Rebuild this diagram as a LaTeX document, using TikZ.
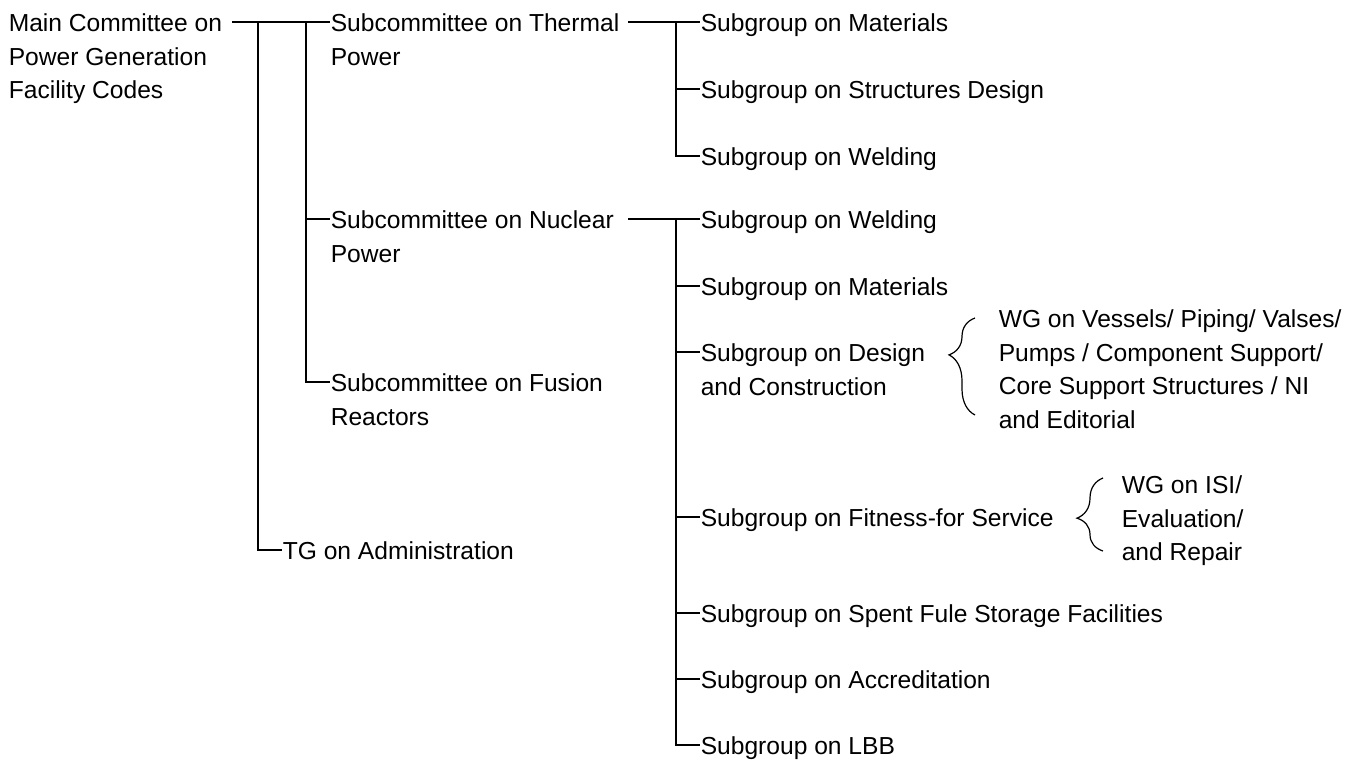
\documentclass[tikz,border=0pt]{standalone}
\usepackage{fontspec}
\setmainfont{Liberation Sans}
\usetikzlibrary{decorations.pathreplacing}

\begin{document}
\begin{tikzpicture}[x=0.5pt, y=-0.5pt, line width=0.8pt,
    lbl/.style={anchor=north west, inner sep=0pt, align=left, yshift=4.4pt,
                font=\fontsize{12.3}{16.75}\selectfont},
    wgbrace/.style={line width=0.6pt, decorate,
                    decoration={brace, amplitude=13pt, aspect=#1}}]
\useasboundingbox (0,0) rectangle (1360,760);

% main committee
\node[lbl] (main) at (8,22) {Main Committee on\\Power Generation\\Facility Codes};
\coordinate (mainout) at (232,22);

% subcommittees
\path (330,22)  coordinate (thin) node[lbl] (thermal) {Subcommittee on Thermal\\Power};
\path (330,219) coordinate (nuin) node[lbl] (nuclear) {Subcommittee on Nuclear\\Power};
\path (330,382) coordinate (fuin) node[lbl] (fusion)  {Subcommittee on Fusion\\Reactors};
\path (282,550) coordinate (adin) node[lbl] (admin)   {TG on Administration};

\coordinate (spa) at (258,22);
\coordinate (spb) at (306,22);
\draw (mainout) -- (thin);
\draw (spa) |- (adin);
\draw (spb) |- (fuin);
\draw (spb |- nuin) -- (nuin);

% thermal subgroups
\coordinate (thout) at (628,22);
\coordinate (thsp)  at (676,22);
\path (700,22)  coordinate (thmatin) node[lbl] (thmat)    {Subgroup on Materials};
\path (700,89)  coordinate (thstrin) node[lbl] (thstruct) {Subgroup on Structures Design};
\path (700,156) coordinate (thwldin) node[lbl] (thweld)   {Subgroup on Welding};

\draw (thout) -- (thmatin);
\draw (thsp) |- (thwldin);
\draw (thsp |- thstrin) -- (thstrin);

% nuclear subgroups
\coordinate (nuout) at (628,219);
\coordinate (nusp)  at (676,219);
\path (700,219) coordinate (nuwldin) node[lbl] (nuweld)  {Subgroup on Welding};
\path (700,286) coordinate (numatin) node[lbl] (numat)   {Subgroup on Materials};
\path (700,352) coordinate (nudesin) node[lbl] (nudes)   {Subgroup on Design\\and Construction};
\path (700,517) coordinate (nufitin) node[lbl] (nufit)   {Subgroup on Fitness-for Service};
\path (700,613) coordinate (nuspin)  node[lbl] (nuspent) {Subgroup on Spent Fule Storage Facilities};
\path (700,679) coordinate (nuaccin) node[lbl] (nuacc)   {Subgroup on Accreditation};
\path (700,745) coordinate (nulbbin) node[lbl] (nulbb)   {Subgroup on LBB};

\draw (nuout) -- (nuwldin);
\draw (nusp) |- (nulbbin);
\draw (nusp |- numatin) -- (numatin);
\draw (nusp |- nudesin) -- (nudesin);
\draw (nusp |- nufitin) -- (nufitin);
\draw (nusp |- nuspin)  -- (nuspin);
\draw (nusp |- nuaccin) -- (nuaccin);

% working groups
\path (998,318)  coordinate (wgvesin) node[lbl] (wgves)
    {WG on Vessels/ Piping/ Valses/\\Pumps / Component Support/\\Core Support Structures / NI\\and Editorial};
\path (1121,484) coordinate (wgisiin) node[lbl] (wgisi)
    {WG on ISI/\\Evaluation/\\and Repair};

\draw[wgbrace=0.62] ([shift={(-11.5pt,-48.5pt)}]wgvesin) -- ([xshift=-11.5pt]wgvesin);
\draw[wgbrace=0.45] ([shift={(-9pt,-33.5pt)}]wgisiin) -- ([shift={(-9pt,3pt)}]wgisiin);
\end{tikzpicture}
\end{document}
